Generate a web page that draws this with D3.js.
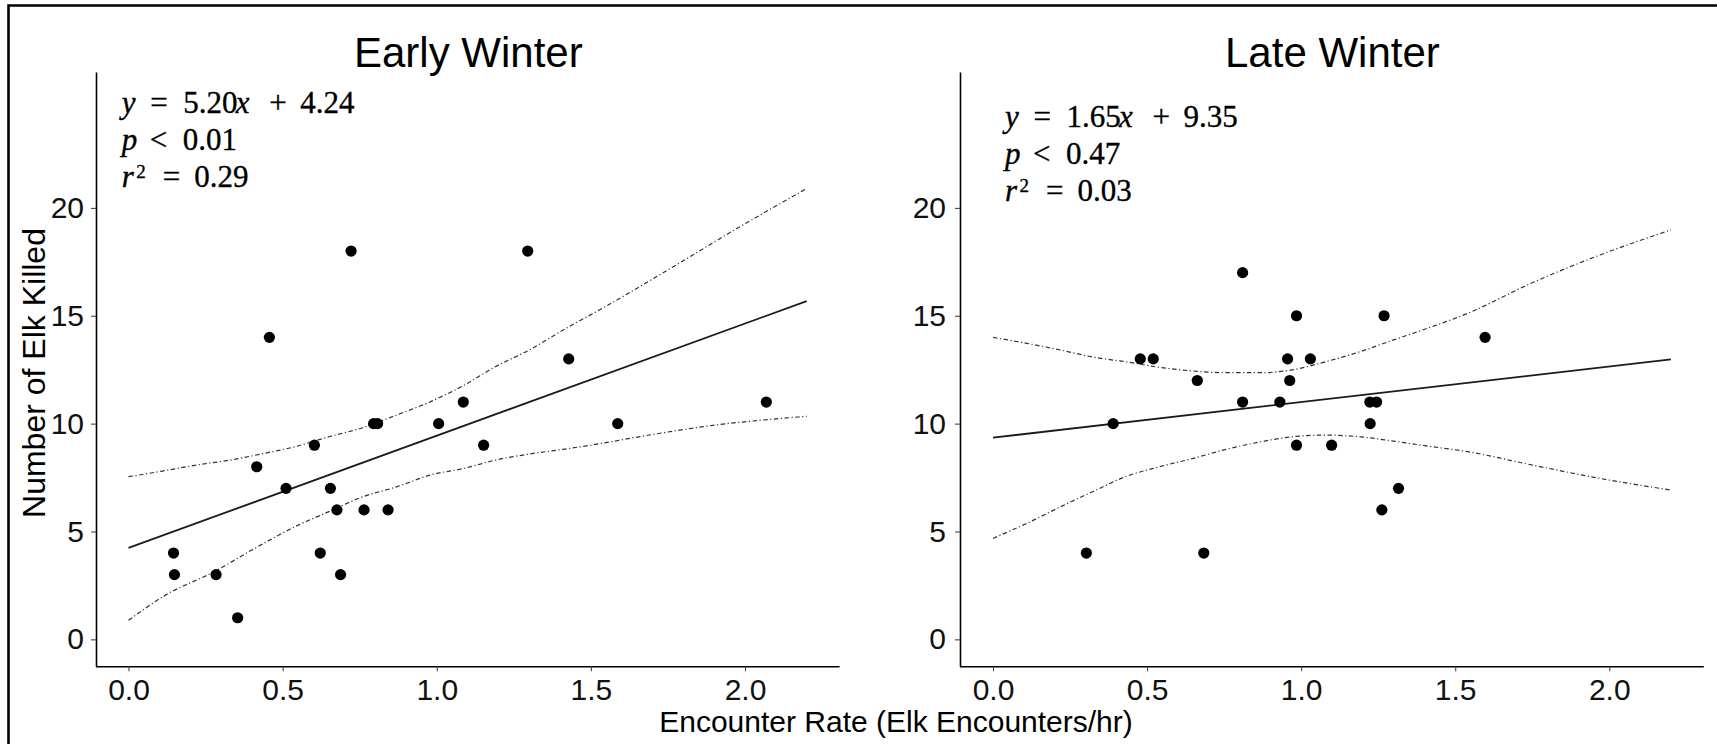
<!DOCTYPE html>
<html>
<head>
<meta charset="utf-8">
<script src="https://cdn.jsdelivr.net/npm/d3@7"></script>
<style>
  html, body { margin: 0; padding: 0; background: #fff; }
  svg { display: block; }
</style>
</head>
<body>
<div id="chart"></div>
<script>
// ---------------- Data ----------------
const xTicks = [0, 0.5, 1.0, 1.5, 2.0];
const yTicks = [0, 5, 10, 15, 20];

// Early Winter
const earlyX = [0.146, 0.149, 0.284, 0.354, 0.416, 0.457, 0.511, 0.603, 0.622, 0.655, 0.676, 0.688,
                0.722, 0.764, 0.795, 0.808, 0.842, 1.006, 1.086, 1.152, 1.295, 1.428, 1.587, 2.069];
const earlyY = [4, 3, 3, 1, 8, 14, 7, 9, 4, 7, 6, 3,
                18, 6, 10, 10, 6, 10, 11, 9, 18, 13, 10, 11];
const fitX = [0, 2.2];
const earlyFit = [4.24, 15.68];
const earlyUpperX = [0, 0.11, 0.22, 0.33, 0.44, 0.54, 0.65, 0.76, 0.87, 0.98, 1.09, 1.19, 1.30, 1.41, 1.55, 1.77, 1.98, 2.2];
const earlyUpperY = [7.54, 7.80, 8.08, 8.31, 8.62, 8.93, 9.39, 9.81, 10.40, 11.02, 11.79, 12.64, 13.41, 14.34, 15.45, 17.30, 19.10, 20.90];
const earlyLowerX = [0, 0.12, 0.28, 0.40, 0.54, 0.65, 0.76, 0.87, 0.98, 1.09, 1.19, 1.30, 1.41, 1.52, 1.66, 1.88, 2.2];
const earlyLowerY = [0.88, 2.05, 3.15, 4.14, 5.22, 5.92, 6.61, 7.07, 7.62, 7.93, 8.31, 8.59, 8.81, 9.05, 9.40, 9.89, 10.34];
const earlyStats = ["5.20", "4.24", "0.01", "0.29"];

// Late Winter
const lateX = [0.303, 0.390, 0.478, 0.520, 0.663, 0.684, 0.810, 0.810, 0.931, 0.956, 0.963,
               0.985, 0.985, 1.030, 1.099, 1.223, 1.224, 1.245, 1.262, 1.269, 1.316, 1.597];
const lateY = [4, 10, 13, 13, 12, 4, 17, 11, 11, 13, 12,
               15, 9, 13, 9, 11, 10, 11, 6, 15, 7, 14];
const lateFit = [9.35, 12.98];
const lateBandX = [0, 0.11, 0.22, 0.33, 0.43, 0.54, 0.65, 0.76, 0.87, 0.97, 1.08, 1.19, 1.30, 1.41, 1.54, 1.75, 1.97, 2.2];
const lateUpperY = [14.00, 13.72, 13.41, 13.07, 12.87, 12.61, 12.44, 12.36, 12.36, 12.49, 12.87, 13.33, 13.88, 14.42, 15.11, 16.53, 17.82, 18.98];
const lateLowerY = [4.68, 5.38, 6.15, 6.89, 7.54, 8.00, 8.39, 8.82, 9.16, 9.39, 9.47, 9.39, 9.19, 8.96, 8.70, 8.08, 7.46, 6.92];
const lateStats = ["1.65", "9.35", "0.47", "0.03"];

const titles = ["Early Winter", "Late Winter"];
const xTitle = "Encounter Rate (Elk Encounters/hr)";
const yTitle = "Number of Elk Killed";

// ---------------- Layout ----------------
const W = 1717, H = 744;
const xDomain = [-0.11, 2.31];
const yDomain = [-1.25, 26.25];
const panelTop = 73.1, panelBottom = 666.3;

const panels = [
  { title: titles[0], xr: [94.6, 840.6], axisX: 96, tickPad: 7,
    pts: earlyX.map((d, i) => [d, earlyY[i]]),
    fit: fitX.map((d, i) => [d, earlyFit[i]]),
    upper: earlyUpperX.map((d, i) => [d, earlyUpperY[i]]),
    lower: earlyLowerX.map((d, i) => [d, earlyLowerY[i]]),
    stats: earlyStats, annX: 121.8, annY: 113 },
  { title: titles[1], xr: [959.1, 1704.8], axisX: 960, tickPad: 9,
    pts: lateX.map((d, i) => [d, lateY[i]]),
    fit: fitX.map((d, i) => [d, lateFit[i]]),
    upper: lateBandX.map((d, i) => [d, lateUpperY[i]]),
    lower: lateBandX.map((d, i) => [d, lateLowerY[i]]),
    stats: lateStats, annX: 1005, annY: 126.7 }
];

const sans = "'Liberation Sans', Arial, Helvetica, sans-serif";
const serif = "'Liberation Serif', 'Times New Roman', serif";

const svg = d3.select("#chart").append("svg")
  .attr("width", W).attr("height", H)
  .attr("viewBox", `0 0 ${W} ${H}`);

svg.append("rect").attr("width", W).attr("height", H).attr("fill", "#fff");

// outer frame (top + left visible)
svg.append("path")
  .attr("d", `M8.5,${H} L8.5,5.5 L${W},5.5`)
  .attr("fill", "none").attr("stroke", "#000").attr("stroke-width", 2.6);

const y = d3.scaleLinear().domain(yDomain).range([panelBottom, panelTop]);

panels.forEach(p => {
  const x = d3.scaleLinear().domain(xDomain).range(p.xr);
  const g = svg.append("g");

  // axes
  const xAxis = d3.axisBottom(x).tickValues(xTicks).tickFormat(d3.format(".1f"))
    .tickSizeInner(5).tickSizeOuter(0).tickPadding(7);
  const gx = g.append("g").attr("transform", `translate(0,${panelBottom})`).call(xAxis);
  gx.select(".domain").attr("d", `M${p.axisX},0.5H${p.xr[1] - 1}`);

  const yAxis = d3.axisLeft(y).tickValues(yTicks).tickFormat(d3.format("d"))
    .tickSizeInner(5).tickSizeOuter(0).tickPadding(p.tickPad);
  const gy = g.append("g").attr("transform", `translate(${p.axisX},0)`).call(yAxis);
  gy.select(".domain").attr("d", `M0.5,${panelBottom + 0.5}V${panelTop - 0.5}`);

  [gx, gy].forEach(a => {
    a.select(".domain").attr("stroke", "#000").attr("stroke-width", 1.6);
    a.selectAll(".tick line").attr("stroke", "#444").attr("stroke-width", 1.1);
    a.selectAll(".tick text").attr("fill", "#111")
      .style("font-family", sans).style("font-size", "30px");
  });

  // confidence bands (dot-dash)
  const line = d3.line().x(d => x(d[0])).y(d => y(d[1])).curve(d3.curveMonotoneX);
  [p.upper, p.lower].forEach(b => {
    g.append("path").attr("d", line(b))
      .attr("fill", "none").attr("stroke", "#333").attr("stroke-width", 1.2)
      .attr("stroke-dasharray", "4.5,2.5,1.2,2.5");
  });

  // regression line
  g.append("path").attr("d", d3.line().x(d => x(d[0])).y(d => y(d[1]))(p.fit))
    .attr("fill", "none").attr("stroke", "#1a1a1a").attr("stroke-width", 1.8);

  // points
  g.selectAll("circle.pt").data(p.pts).join("circle").attr("class", "pt")
    .attr("cx", d => x(d[0])).attr("cy", d => y(d[1])).attr("r", 5.6)
    .attr("fill", "#000");

  // title
  g.append("text").attr("x", (p.axisX + p.xr[1]) / 2).attr("y", 66.7)
    .attr("text-anchor", "middle").attr("fill", "#000")
    .style("font-family", sans).style("font-size", "42px")
    .text(p.title);

  // annotation (equation, p, r^2)
  const ann = g.append("g").style("font-family", serif).style("font-size", "31px")
    .attr("fill", "#000").attr("stroke", "#000").attr("stroke-width", 0.35);
  const lh = 37;
  const l1 = ann.append("text").attr("y", p.annY);
  [["y", true, 0], ["=", false, 28.5], [p.stats[0], false, 61.5], ["x", true, 114],
   ["+", false, 147.5], [p.stats[1], false, 178.5]].forEach(([t, it, dx]) => {
    l1.append("tspan").attr("x", p.annX + dx).style("font-style", it ? "italic" : "normal").text(t);
  });
  const l2 = ann.append("text").attr("y", p.annY + lh);
  [["p", true, 0], ["<", false, 28], [p.stats[2], false, 61]].forEach(([t, it, dx]) => {
    l2.append("tspan").attr("x", p.annX + dx).style("font-style", it ? "italic" : "normal").text(t);
  });
  const l3 = ann.append("text").attr("y", p.annY + 2 * lh);
  l3.append("tspan").attr("x", p.annX).style("font-style", "italic").text("r");
  l3.append("tspan").attr("x", p.annX + 14.5).attr("y", p.annY + 2 * lh - 9)
    .style("font-size", "19px").text("2");
  l3.append("tspan").attr("x", p.annX + 41).attr("y", p.annY + 2 * lh).text("=");
  l3.append("tspan").attr("x", p.annX + 72.5).text(p.stats[3]);
});

// shared axis titles
svg.append("text").attr("x", 896).attr("y", 732)
  .attr("text-anchor", "middle").attr("fill", "#000")
  .style("font-family", sans).style("font-size", "30px").text(xTitle);

svg.append("text").attr("transform", "translate(45,373) rotate(-90)")
  .attr("text-anchor", "middle").attr("fill", "#000")
  .style("font-family", sans).style("font-size", "32px").text(yTitle);
</script>
</body>
</html>
